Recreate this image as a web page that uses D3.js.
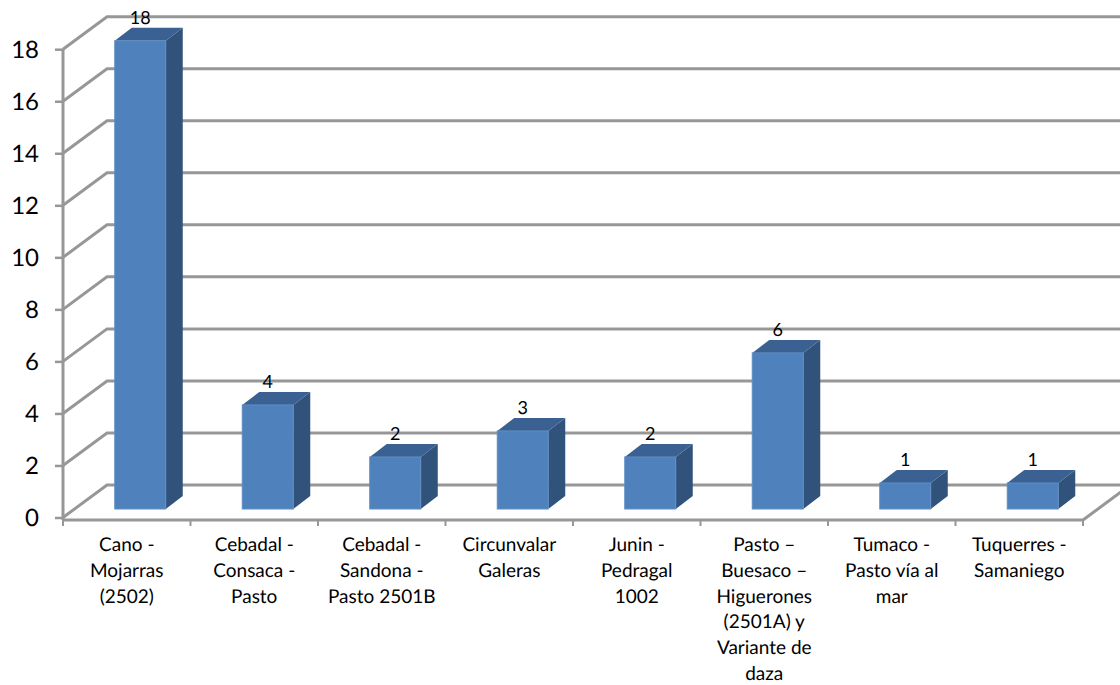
<!DOCTYPE html>
<html>
<head>
<meta charset="utf-8">
<script src="https://cdn.jsdelivr.net/npm/d3@7/dist/d3.min.js"></script>
<style>
  html, body { margin: 0; padding: 0; background: #fff; }
  svg { display: block; }
  text { font-family: Lato, "Open Sans", sans-serif; fill: #000; text-rendering: geometricPrecision; }
</style>
</head>
<body>
<svg id="chart" width="1120" height="685"></svg>
<script>
// Accidents per road corridor, drawn as a pseudo-3D column chart.
const categories = [
  "Cano - Mojarras (2502)",
  "Cebadal - Consaca - Pasto",
  "Cebadal - Sandona - Pasto 2501B",
  "Circunvalar Galeras",
  "Junin - Pedragal 1002",
  "Pasto – Buesaco – Higuerones (2501A) y Variante de daza",
  "Tumaco - Pasto vía al mar",
  "Tuquerres - Samaniego"
];
const categoryLines = [
  ["Cano -", "Mojarras", "(2502)"],
  ["Cebadal -", "Consaca -", "Pasto"],
  ["Cebadal -", "Sandona -", "Pasto 2501B"],
  ["Circunvalar", "Galeras"],
  ["Junin -", "Pedragal", "1002"],
  ["Pasto –", "Buesaco –", "Higuerones", "(2501A) y", "Variante de", "daza"],
  ["Tumaco -", "Pasto vía al", "mar"],
  ["Tuquerres -", "Samaniego"]
];
const values = [18, 4, 2, 3, 2, 6, 1, 1];
const yTicks = [0, 2, 4, 6, 8, 10, 12, 14, 16, 18];

const gridColor = "#979797";
const frontColor = "#4f81bd";
const edgeColor = "#5f8dc4";
const sideColor = "#31527b";
const topColor = "#3a6191";

const svg = d3.select("#chart");

// Front plane of the plot box
const left = 63, right = 1083, floorY = 520;
const y = d3.scaleLinear().domain([0, 18]).range([517.5, 49.2]);
const x = d3.scaleBand().domain(categories).range([left, right]).paddingInner(0).paddingOuter(0);

// Offset from the front plane to the back wall
const depthX = 44, depthY = -32.5;
// Column depth and its placement on the floor
const barW = 51, sideX = 17, sideY = -13, barShiftX = 13.5, barShiftY = -8.5;

// Back wall gridlines and their diagonals along the side wall
const grid = svg.append("g").attr("fill", "none").attr("stroke", gridColor).attr("stroke-width", 3);
grid.selectAll("path.wall").data(yTicks).join("path").attr("class", "wall")
  .attr("d", d => d3.line()([
    [left, y(d)],
    [left + depthX, y(d) + depthY],
    [1125, y(d) + depthY]
  ]));

// Floor edge on the right side
grid.append("path").attr("d", d3.line()([
  [right, floorY],
  [1125, floorY + (1125 - right) * depthY / depthX]
]));

// Value axis
const yAxis = d3.axisLeft(y).tickValues(yTicks).tickSize(8).tickPadding(16).tickSizeOuter(0);
const yG = svg.append("g").attr("transform", `translate(${left},0)`).call(yAxis);
yG.select(".domain").attr("stroke", gridColor).attr("stroke-width", 3)
  .attr("d", `M0,${y(18)}V${floorY}`);
yG.selectAll(".tick line").attr("stroke", gridColor).attr("stroke-width", 2.5);
yG.selectAll(".tick text").style("font-size", "24px").attr("fill", "#000").attr("dy", "0.34em");

// Category axis
const xAxis = d3.axisBottom(x).tickValues([]).tickSize(0);
const xG = svg.append("g").attr("transform", `translate(0,${floorY})`).call(xAxis);
xG.select(".domain").attr("stroke", gridColor).attr("stroke-width", 3)
  .attr("d", `M${left},0H${right}`);
xG.selectAll("line.sep").data(d3.range(categories.length + 1)).join("line").attr("class", "sep")
  .attr("x1", i => left + i * x.step()).attr("x2", i => left + i * x.step())
  .attr("y1", 0).attr("y2", 6)
  .attr("stroke", gridColor).attr("stroke-width", 2);

// Columns: right face, top face, then front face
const bars = svg.append("g").selectAll("g").data(categories).join("g");
const bx = d => x(d) + x.bandwidth() / 2 + barShiftX - barW / 2;
const baseY = y(0) + barShiftY;
const topY = (d, i) => y(values[i]) + barShiftY;
const poly = pts => d3.line()(pts) + "Z";

bars.append("path").attr("fill", sideColor).attr("d", (d, i) => poly([
  [bx(d) + barW, topY(d, i)],
  [bx(d) + barW + sideX, topY(d, i) + sideY],
  [bx(d) + barW + sideX, baseY + sideY],
  [bx(d) + barW, baseY]
]));
bars.append("path").attr("fill", topColor).attr("d", (d, i) => poly([
  [bx(d), topY(d, i)],
  [bx(d) + sideX, topY(d, i) + sideY],
  [bx(d) + barW + sideX, topY(d, i) + sideY],
  [bx(d) + barW, topY(d, i)]
]));
bars.append("rect").attr("fill", frontColor).attr("stroke", edgeColor).attr("stroke-width", 1)
  .attr("x", bx).attr("y", topY).attr("width", barW)
  .attr("height", (d, i) => baseY - topY(d, i));

// Value labels above each column
bars.append("text").attr("text-anchor", "middle").style("font-size", "18px")
  .attr("x", d => bx(d) + barW / 2)
  .attr("y", (d, i) => topY(d, i) + sideY - 4)
  .text((d, i) => values[i]);

// Wrapped category labels
const labels = svg.append("g").selectAll("text").data(categories).join("text")
  .attr("text-anchor", "middle").style("font-size", "19px")
  .attr("x", d => x(d) + x.bandwidth() / 2)
  .attr("y", 551);
labels.selectAll("tspan").data((d, i) => categoryLines[i]).join("tspan")
  .attr("x", function () { return d3.select(this.parentNode).attr("x"); })
  .attr("dy", (d, i) => i ? 25.8 : 0)
  .text(d => d);
</script>
</body>
</html>
